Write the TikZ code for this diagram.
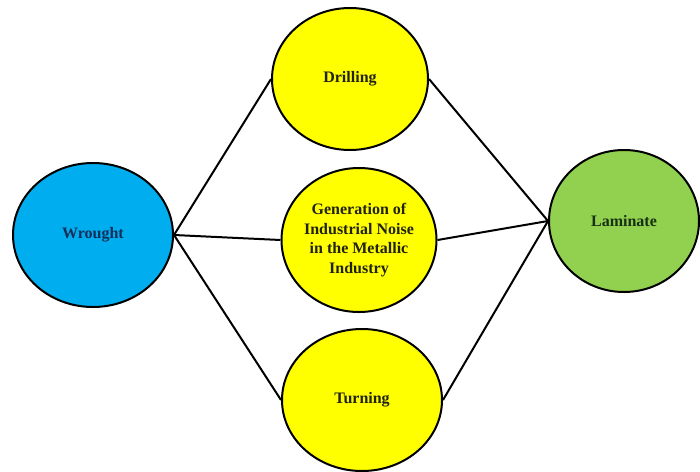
\documentclass[tikz,border=0pt]{standalone}
\usepackage{fontspec}
\setmainfont{Liberation Serif}
\usetikzlibrary{shapes.geometric}
\definecolor{wroughtblue}{RGB}{0,174,239}
\definecolor{millyellow}{RGB}{255,255,0}
\definecolor{laminategreen}{RGB}{146,208,80}
\definecolor{navytext}{RGB}{22,46,90}
\definecolor{greentext}{RGB}{24,48,20}
\definecolor{darktext}{RGB}{34,34,20}

\begin{document}
\begin{tikzpicture}[x=1pt,y=-1pt,
  blob/.style={ellipse,draw=black,line width=2pt,inner sep=0pt,
    font=\fontsize{16}{19.5}\selectfont\bfseries,align=center,text=darktext},
  link/.style={line width=2pt}]
  \useasboundingbox (0,0) rectangle (700,471);
  % process nodes
  \node[blob,fill=wroughtblue,text=navytext,minimum width=160pt,minimum height=144pt] (wrought) at (93,235) {Wrought};
  \node[blob,fill=millyellow,minimum width=156pt,minimum height=142pt] (drilling) at (350,79) {Drilling};
  \node[blob,fill=millyellow,inner xsep=-3pt,minimum width=155pt,minimum height=144pt] (noise) at (359,240)
    {Generation of\\Industrial Noise\\in the Metallic\\Industry};
  \node[blob,fill=millyellow,minimum width=160pt,minimum height=142pt] (turning) at (362,400) {Turning};
  \node[blob,fill=laminategreen,text=greentext,minimum width=150pt,minimum height=142pt] (laminate) at (624,221) {Laminate};
  % connectors
  \draw[link] (wrought.east) -- (drilling.west);
  \draw[link] (wrought.east) -- (noise.west);
  \draw[link] (wrought.east) -- (turning.west);
  \draw[link] (drilling.east) -- (laminate.west);
  \draw[link] (noise.east) -- (laminate.west);
  \draw[link] (turning.east) -- (laminate.west);
\end{tikzpicture}
\end{document}
